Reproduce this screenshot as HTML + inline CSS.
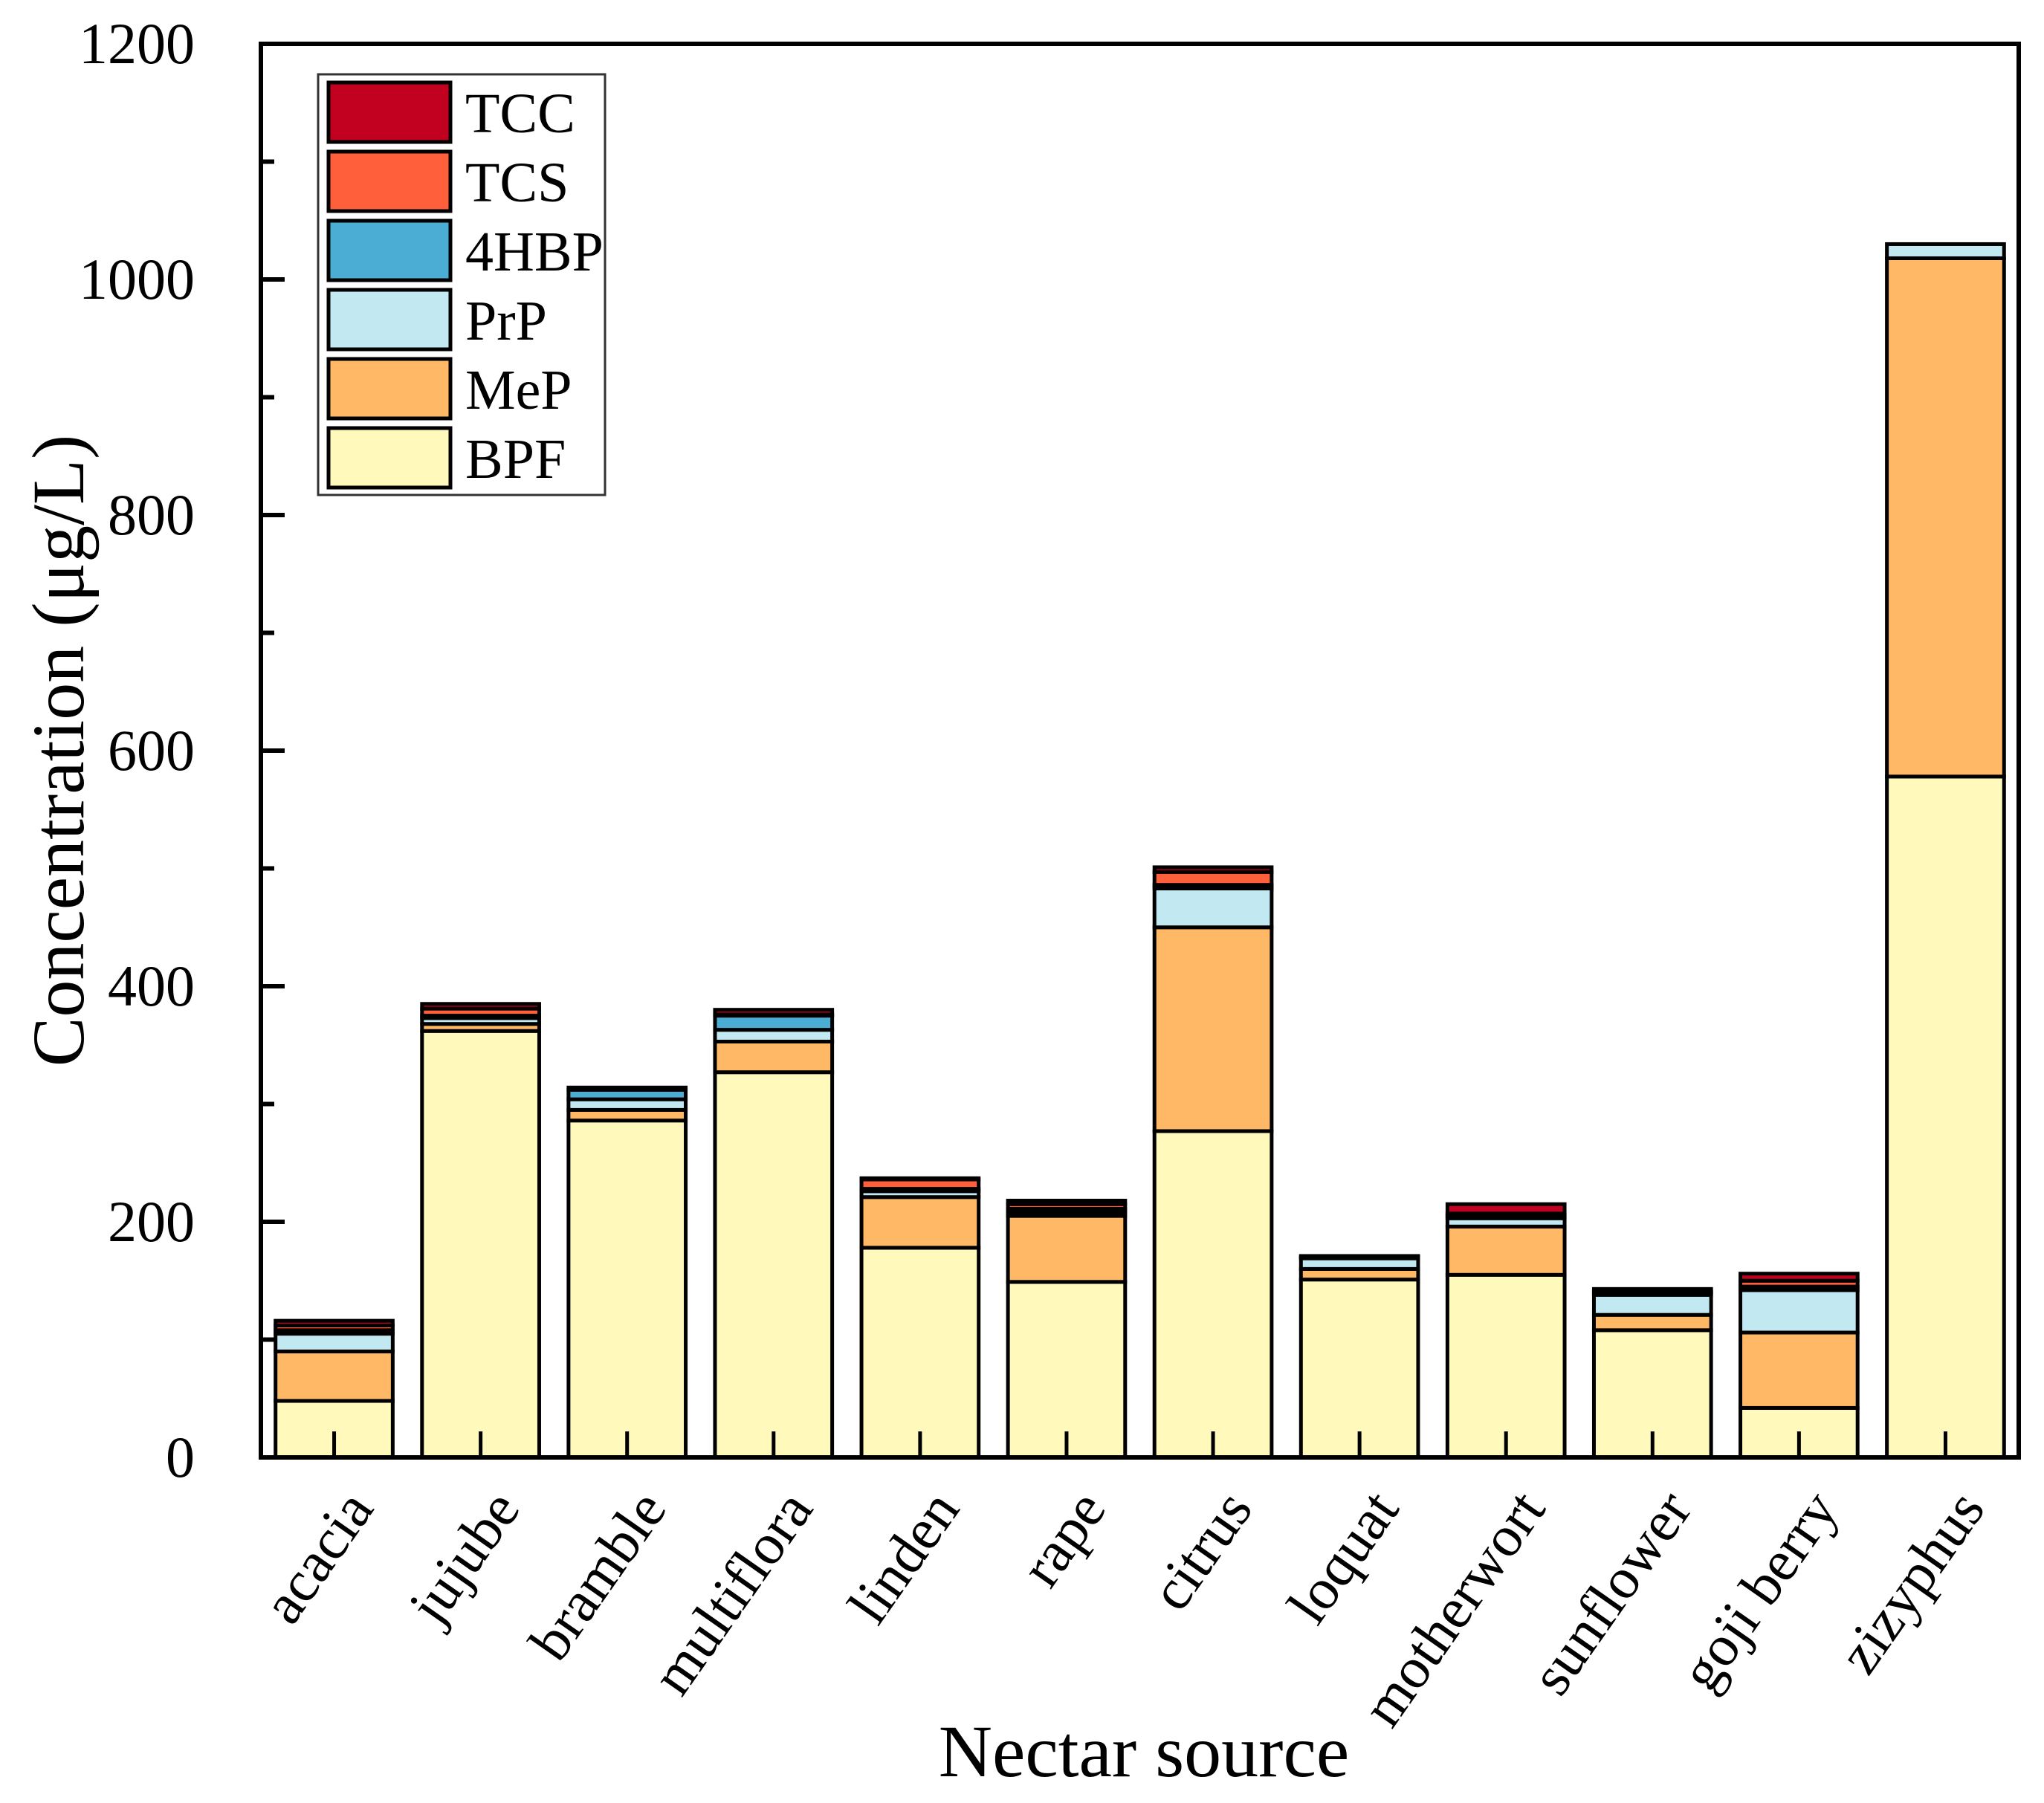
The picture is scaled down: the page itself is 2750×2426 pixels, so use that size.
<!DOCTYPE html>
<html><head><meta charset="utf-8"><style>
html,body{margin:0;padding:0;background:#fff;}
svg{display:block;font-family:"Liberation Serif","Times New Roman",serif;}
</style></head><body>
<svg id="chart" width="2750" height="2426" viewBox="0 0 2750 2426">
<g id="bars"></g>
<g id="axes"></g>
<g id="legend"></g>
</svg>
<script>
const categories = ["acacia","jujube","bramble","multiflora","linden","rape","citrus","loquat","motherwort","sunflower","goji berry","zizyphus"];
const seriesNames = ["BPF","MeP","PrP","4HBP","TCS","TCC"];
const BPF  = [48, 362, 286, 327, 178, 149, 277, 151, 155, 108, 42, 578];
const MeP  = [42, 6, 9, 26, 43, 56, 173, 9, 41, 13, 64, 440];
const PrP  = [15, 5, 9, 10, 5, 3, 33, 9, 7, 17, 36, 12];
const HBP4 = [3, 2, 8, 12, 2, 3, 3, 1, 2, 2, 3, 0];
const TCS  = [4, 6, 0, 1, 8, 4, 11, 0, 2, 1, 5, 0];
const TCC  = [4, 4, 2, 4, 1, 3, 4, 1, 8, 2, 6, 0];
const yTicks = [0, 200, 400, 600, 800, 1000, 1200];
const series = [BPF, MeP, PrP, HBP4, TCS, TCC];
const colors = ["#fff9bb","#ffb966","#c2e8f2","#4badd4","#ff5f3a","#c2001f"];

const NS = "http://www.w3.org/2000/svg";
const L = 351, R = 2716, T = 59, B = 1961, YMAX = 1200;
const band = (R - L) / categories.length;
const bw = band * 0.8;
function x(i){ return L + band * (i + 0.5); }
function y(v){ return B - (v / YMAX) * (B - T); }
function mk(tag, attrs, parent){ const e = document.createElementNS(NS, tag); for (const k in attrs) e.setAttribute(k, attrs[k]); parent.appendChild(e); return e; }

const gb = document.getElementById("bars");
categories.forEach((c, i) => {
  let acc = 0;
  series.forEach((s, k) => {
    const v = s[i];
    if (v <= 0) return;
    const r = mk("rect", {x: x(i) - bw/2, y: y(acc + v), width: bw, height: y(acc) - y(acc + v), fill: colors[k], stroke: "#000", "stroke-width": 5}, gb);
    
    
    acc += v;
  });
});

const ga = document.getElementById("axes");
const frame = mk("rect", {x: L, y: T, width: R - L, height: B - T, fill: "none", stroke: "#000", "stroke-width": 6}, ga);


for (let v = 0; v <= YMAX; v += 100) {
  const major = v % 200 === 0;
  const t = mk("line", {x1: L, x2: L + (major ? 32 : 18), y1: y(v), y2: y(v), stroke: "#000", "stroke-width": 6}, ga);
  
  
}
yTicks.forEach(v => {
  const t = mk("text", {x: 262, y: y(v) + 26, "text-anchor": "end", "font-size": 78}, ga);
  t.textContent = v;
  
  
});
categories.forEach((c, i) => {
  const t = mk("line", {x1: x(i), x2: x(i), y1: B, y2: B - 35, stroke: "#000", "stroke-width": 5}, ga);
  
  
  const lab = mk("text", {x: x(i) + 55, y: 2030, "text-anchor": "end", "font-size": 78, transform: "rotate(-55 " + (x(i) + 55) + " 2030)"}, ga);
  lab.textContent = c;
  
  
});
const yt = mk("text", {x: 0, y: 0, "text-anchor": "middle", "font-size": 100, transform: "translate(112 1010) rotate(-90)"}, ga);
yt.textContent = "Concentration (μg/L)";


const xt = mk("text", {x: 1539, y: 2390, "text-anchor": "middle", "font-size": 100}, ga);
xt.textContent = "Nectar source";



const gl = document.getElementById("legend");
const lb = mk("rect", {x: 428, y: 100, width: 386, height: 566, fill: "#fff", stroke: "#333", "stroke-width": 3}, gl);


const order = [5,4,3,2,1,0];
order.forEach((k, j) => {
  const yy = 111 + j * 93;
  const sw = mk("rect", {x: 442, y: yy, width: 164, height: 80, fill: colors[k], stroke: "#000", "stroke-width": 5}, gl);
  
  
  const tx = mk("text", {x: 626, y: yy + 67, "font-size": 76}, gl);
  tx.textContent = seriesNames[k];
  
  
});
</script>
</body></html>
